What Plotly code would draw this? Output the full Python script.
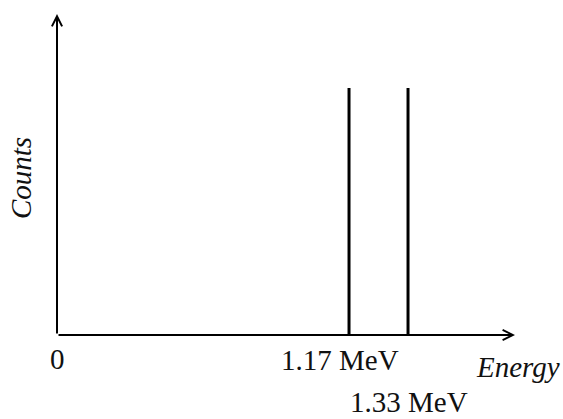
import plotly.graph_objects as go

# Gamma lines of the spectrum (MeV) and their relative counts
peak_energies = [1.17, 1.33]
peak_counts = [1.0, 1.0]
peak_labels = ["1.17 MeV", "1.33 MeV"]
origin_label = "0"
x_title = "Energy"
y_title = "Counts"

# vertical stick for each peak, separated by gaps
xs, ys = [], []
for e, c in zip(peak_energies, peak_counts):
    xs += [e, e, None]
    ys += [0, c, None]

fig = go.Figure()
fig.add_trace(go.Scatter(x=xs, y=ys, mode="lines",
                         line=dict(color="black", width=3),
                         hoverinfo="skip", showlegend=False))

serif = "Liberation Serif"
txt = dict(family=serif, size=29, color="#111")
ann = []
# axis arrows
for hx, hy in [(1, 0), (0, 1)]:
    ann.append(dict(x=hx, y=hy, ax=0, ay=0, xref="x domain", yref="y domain",
                    axref="x domain", ayref="y domain", text="", showarrow=True,
                    arrowhead=5, arrowsize=1, arrowwidth=2, arrowcolor="black",
                    standoff=0, startstandoff=0))
# peak labels, staggered so they do not collide
shifts = [(-9, -25), (1, -67)]
for e, lab, (dx, dy) in zip(peak_energies, peak_labels, shifts):
    ann.append(dict(x=e, y=0, xref="x", yref="y domain", text=lab,
                    showarrow=False, xanchor="center", yanchor="middle",
                    xshift=dx, yshift=dy, font=txt))
ann.append(dict(x=0, y=0, xref="x domain", yref="y domain", text=origin_label,
                showarrow=False, xanchor="center", yanchor="middle",
                xshift=0, yshift=-24, font=txt))
ann.append(dict(x=1, y=0, xref="x domain", yref="y domain",
                text="<i>" + x_title + "</i>",
                showarrow=False, xanchor="center", yanchor="middle",
                xshift=3, yshift=-32, font=txt))
ann.append(dict(x=0, y=0.489, xref="x domain", yref="y domain",
                text="<i>" + y_title + "</i>", textangle=-90,
                showarrow=False, xanchor="center", yanchor="middle",
                xshift=-36, font=txt))

fig.update_layout(
    width=563, height=419,
    margin=dict(l=57, r=48, t=14, b=84),
    paper_bgcolor="white", plot_bgcolor="white",
    xaxis=dict(range=[0.3781, 1.6201], visible=False, fixedrange=True),
    yaxis=dict(range=[0, 1.2996], visible=False, fixedrange=True),
    annotations=ann,
)

fig.write_html("out.html", config={"displayModeBar": False})
